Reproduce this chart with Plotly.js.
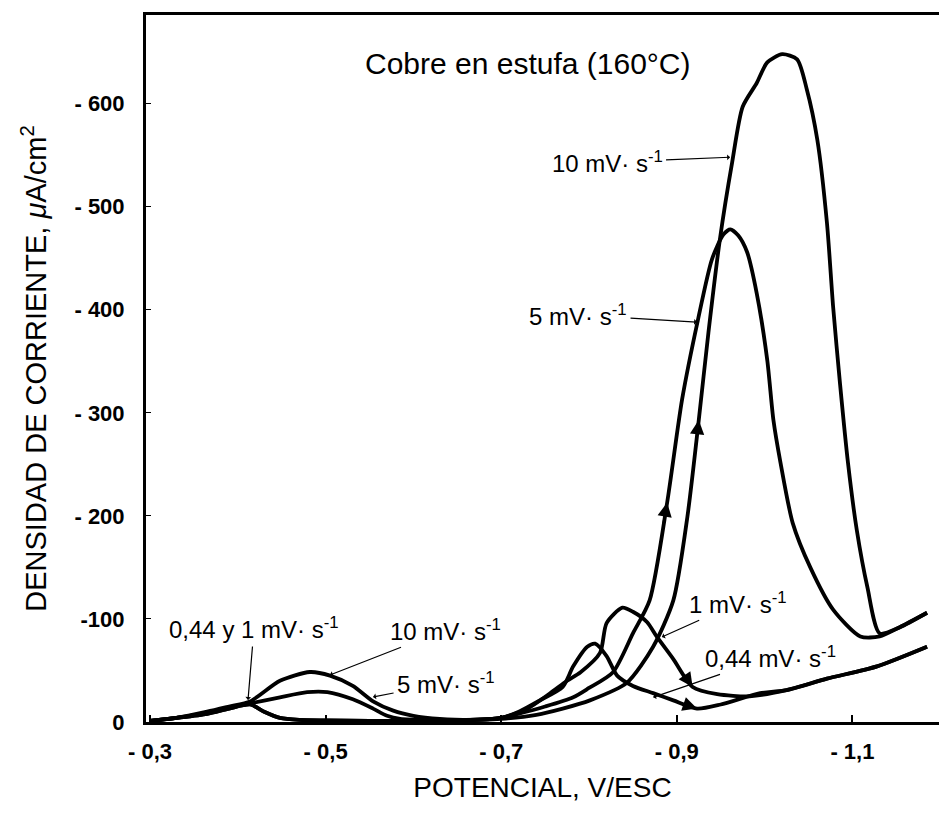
<!DOCTYPE html>
<html>
<head>
<meta charset="utf-8">
<script src="https://cdn.plot.ly/plotly-3.0.1.min.js"></script>
<style>html,body{margin:0;padding:0;background:#fff;}#chart{width:939px;height:817px;}</style>
</head>
<body>
<div id="chart"></div>
<script>
// ---- data (potential V/ESC, current density uA/cm2) ----
var x10 = [-0.300, -0.33, -0.365, -0.39, -0.414, -0.448, -0.482, -0.505, -0.531, -0.554, -0.577, -0.600, -0.630, -0.670, -0.700, -0.740, -0.770, -0.801, -0.843, -0.873, -0.896, -0.912, -0.925, -0.936, -0.949, -0.963, -0.975, -0.991, -1.003, -1.020, -1.037, -1.048, -1.060, -1.071, -1.078, -1.086, -1.095, -1.105, -1.117, -1.131, -1.154, -1.185];
var y10 = [-1, -4, -10, -15, -20, -40, -48.5, -45, -35, -20, -11, -6, -3, -2, -3, -7, -13, -21, -38, -73, -118, -199, -293, -378, -468, -543, -597, -620, -640, -648, -643, -614, -565, -484, -403, -327, -251, -186, -131, -86, -92, -106];

var x5 = [-0.300, -0.33, -0.365, -0.39, -0.414, -0.448, -0.479, -0.502, -0.531, -0.554, -0.570, -0.585, -0.620, -0.660, -0.700, -0.720, -0.750, -0.782, -0.800, -0.827, -0.850, -0.869, -0.889, -0.906, -0.924, -0.940, -0.953, -0.961, -0.970, -0.980, -0.991, -1.003, -1.010, -1.018, -1.032, -1.052, -1.078, -1.109, -1.131, -1.154, -1.185];
var y5 = [-1, -4, -9, -14, -18, -24, -29, -29, -22, -13, -6, -3, -2, -2, -4, -8, -15, -24, -33, -48, -86, -118, -213, -313, -390, -449, -473, -478, -472, -456, -416, -351, -293, -252, -193, -150, -109, -83, -83, -92, -106];

var x1 = [-0.300, -0.33, -0.365, -0.39, -0.414, -0.43, -0.448, -0.47, -0.50, -0.55, -0.60, -0.65, -0.70, -0.73, -0.756, -0.775, -0.790, -0.8125, -0.820, -0.838, -0.850, -0.866, -0.877, -0.896, -0.918, -0.946, -0.983, -1.025, -1.071, -1.128, -1.185];
var y1 = [-1, -4, -8, -13, -17, -10, -4, -2, -1.5, -1, -1, -1.5, -4, -13, -28, -40, -48, -67, -96, -111, -107, -97, -83, -61, -34, -27, -25, -31, -42, -54, -73];

var x044 = [-0.300, -0.33, -0.365, -0.39, -0.414, -0.43, -0.448, -0.47, -0.50, -0.55, -0.60, -0.65, -0.70, -0.72, -0.744, -0.770, -0.782, -0.798, -0.807, -0.820, -0.832, -0.850, -0.873, -0.896, -0.923, -0.950, -0.995, -1.025, -1.071, -1.128, -1.185];
var y044 = [-1, -4, -8, -13, -17, -10, -4, -2, -1.5, -1, -1, -1.5, -4, -10, -21, -34, -54, -73, -76, -64, -45, -35, -28, -21, -13, -17, -28, -31, -42, -54, -73];

var xTickVals = [-0.3, -0.5, -0.7, -0.9, -1.1];
var xTickText = ["- 0,3", "- 0,5", "- 0,7", "- 0,9", "- 1,1"];
var yTickVals = [0, -100, -200, -300, -400, -500, -600];
var yTickText = ["0", "-100", "- 200", "- 300", "- 400", "- 500", "- 600"];

var seriesNames = ["10 mV·s-1", "5 mV·s-1", "1 mV·s-1", "0,44 mV·s-1"];
// --------------------------------------------------------

var FONT = "Liberation Sans, Arial, Helvetica, sans-serif";
var lineStyle = {color: "#000", width: 3.8, shape: "spline", smoothing: 0.7};

function tr(x, y, name) {
  return {x: x, y: y, name: name, type: "scatter", mode: "lines", line: lineStyle, hoverinfo: "skip"};
}
var data = [tr(x10, y10, seriesNames[0]), tr(x5, y5, seriesNames[1]), tr(x1, y1, seriesNames[2]), tr(x044, y044, seriesNames[3])];

function arrowAt(xs, ys, xv, frac) {
  var i = xs.indexOf(xv);
  return {x: xs[i], y: ys[i], xref: "x", yref: "y",
    ax: xs[i] + (xs[i-1] - xs[i]) * frac, ay: ys[i] + (ys[i-1] - ys[i]) * frac,
    axref: "x", ayref: "y", text: "", showarrow: true,
    arrowhead: 2, arrowsize: 1.3, arrowwidth: 2.2, arrowcolor: "#000"};
}

function label(txt, x, y, ax, ay, size, lw) {
  return {x: x, y: y, xref: "x", yref: "y", ax: ax, ay: ay, text: txt,
    showarrow: true, arrowhead: 1, arrowsize: 0.8, arrowwidth: lw || 1.2, arrowcolor: "#000",
    font: {family: FONT, size: size || 24, color: "#000"}, standoff: 0, startstandoff: 2};
}

var annotations = [
  {x: -0.7305, y: -639, xref: "x", yref: "y", text: "Cobre en estufa (160°C)", showarrow: false,
   font: {family: FONT, size: 30, color: "#000"}},
  label("10 mV· s<sup>-1</sup>", -0.9606, -548, -123, 5),
  label("5 mV· s<sup>-1</sup>", -0.923, -388, -119, -7),
  label("1 mV· s<sup>-1</sup>", -0.883, -82.5, 76, -34),
  label("0,44 mV· s<sup>-1</sup>", -0.873, -24, 117, -40),
  label("0,44 y 1 mV· s<sup>-1</sup>", -0.4116, -21.4, 6, -72),
  label("10 mV· s<sup>-1</sup>", -0.505, -45.6, 115, -45),
  label("5 mV· s<sup>-1</sup>", -0.554, -24.3, 73, -14),
  arrowAt(x5, y5, -0.889, 0.25),
  arrowAt(x10, y10, -0.925, 0.3),
  arrowAt(x1, y1, -0.918, 0.5),
  arrowAt(x044, y044, -0.923, 0.6)
];

var layout = {
  width: 939, height: 817,
  margin: {l: 146, r: 0, t: 15, b: 95},
  paper_bgcolor: "#fff", plot_bgcolor: "#fff",
  showlegend: false,
  font: {family: FONT, color: "#000"},
  xaxis: {
    range: [-0.2954, -1.1986], showgrid: false, zeroline: false,
    showline: true, linewidth: 3, linecolor: "#000", mirror: true,
    ticks: "inside", ticklen: 7, tickwidth: 2, tickcolor: "#000",
    tickvals: xTickVals, ticktext: xTickText,
    tickfont: {family: FONT, size: 22, weight: "bold", color: "#000"},
    ticklabelstandoff: 8,
    title: {text: "POTENCIAL, V/ESC", font: {family: FONT, size: 28, color: "#000"}, standoff: 14}
  },
  yaxis: {
    range: [0, -686], showgrid: false, zeroline: false,
    showline: true, linewidth: 3, linecolor: "#000", mirror: false,
    ticks: "inside", ticklen: 5, tickwidth: 1, tickcolor: "#000",
    tickvals: yTickVals, ticktext: yTickText,
    tickfont: {family: FONT, size: 22, weight: "bold", color: "#000"},
    ticklabelstandoff: 14,
    title: {text: "DENSIDAD DE CORRIENTE, <i>μ</i>A/cm<sup>2</sup>", font: {family: FONT, size: 29, color: "#000"}, standoff: 20}
  },
  annotations: annotations
};

Plotly.newPlot("chart", data, layout, {staticPlot: true, displayModeBar: false});
</script>
</body>
</html>
